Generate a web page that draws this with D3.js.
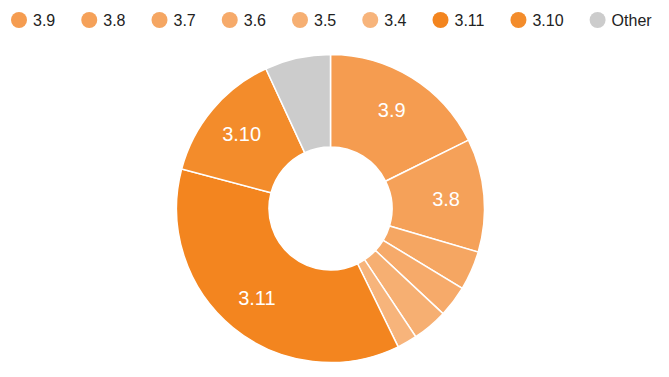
<!DOCTYPE html>
<html>
<head>
<meta charset="utf-8">
<script src="https://cdn.jsdelivr.net/npm/d3@7"></script>
<style>
  html, body { margin: 0; padding: 0; background: #fff; }
  svg { display: block; font-family: "Liberation Sans", Arial, Helvetica, sans-serif; }
</style>
</head>
<body>
<div id="chart"></div>
<script>
const versions = ["3.9", "3.8", "3.7", "3.6", "3.5", "3.4", "3.11", "3.10", "Other"];
const shares = [17.7, 11.9, 4.1, 3.3, 3.7, 2.1, 36.4, 14.0, 6.9];
const colors = ["#f59c50", "#f5a159", "#f5a662", "#f6aa6a", "#f6af72", "#f7b47b", "#f3851f", "#f38c2b", "#cccccc"];
const labelled = ["3.9", "3.8", "3.11", "3.10"];

const width = 669, height = 377;
const cx = 330.5, cy = 208.5;
const outerR = 154, innerR = 61.5;

const data = versions.map((v, i) => ({name: v, value: shares[i]}));
const color = d3.scaleOrdinal().domain(versions).range(colors);

const svg = d3.select("#chart")
  .append("svg")
  .attr("width", width)
  .attr("height", height);

// legend
const legend = svg.append("g").attr("class", "legend");
let lx = 19;
versions.forEach(v => {
  const item = legend.append("g");
  item.append("circle")
    .attr("cx", lx)
    .attr("cy", 20)
    .attr("r", 8)
    .attr("fill", color(v));
  const t = item.append("text")
    .attr("x", lx + 14)
    .attr("y", 25.5)
    .attr("font-size", "16px")
    .attr("fill", "#222")
    .text(v);
  lx += 14 + t.node().getComputedTextLength() + 26 + 8;
});

// donut
const pie = d3.pie().value(d => d.value).sort(null);
const arc = d3.arc().innerRadius(innerR).outerRadius(outerR);
const labelArc = d3.arc().innerRadius(116).outerRadius(116);

const g = svg.append("g").attr("transform", `translate(${cx},${cy})`);
const arcs = pie(data);

g.selectAll("path")
  .data(arcs)
  .join("path")
  .attr("d", arc)
  .attr("fill", d => color(d.data.name))
  .attr("stroke", "#fff")
  .attr("stroke-width", 1.5);

g.selectAll("text")
  .data(arcs.filter(d => labelled.includes(d.data.name)))
  .join("text")
  .attr("transform", d => `translate(${labelArc.centroid(d)})`)
  .attr("text-anchor", "middle")
  .attr("dy", "0.36em")
  .attr("font-size", "20px")
  .attr("fill", "#fff")
  .text(d => d.data.name);
</script>
</body>
</html>
